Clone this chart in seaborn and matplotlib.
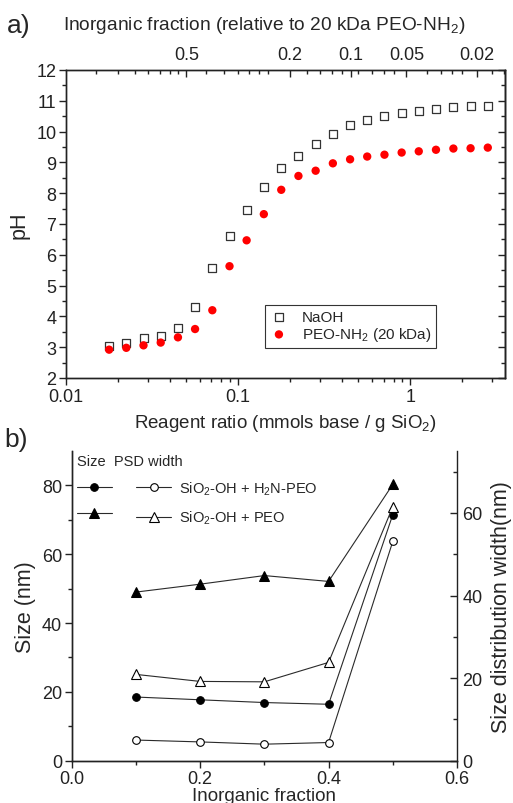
import numpy as np
import pandas as pd
import matplotlib
matplotlib.use('Agg')
import matplotlib.pyplot as plt
import seaborn as sns
from matplotlib.ticker import FixedLocator, MultipleLocator, NullFormatter, LogLocator

# ---------------- Panel a data ----------------
reagent_ratio = [0.0178, 0.0224, 0.0282, 0.0355, 0.0447, 0.0562, 0.0708, 0.0891,
                 0.112, 0.141, 0.178, 0.224, 0.282, 0.355, 0.447, 0.562, 0.708,
                 0.891, 1.12, 1.41, 1.78, 2.24, 2.82]
ph_naoh = [3.03, 3.13, 3.29, 3.35, 3.63, 4.30, 5.58, 6.62, 7.45, 8.21, 8.81, 9.22,
           9.61, 9.92, 10.21, 10.39, 10.52, 10.61, 10.68, 10.72, 10.79, 10.82, 10.84]
ph_peo = [2.92, 2.98, 3.06, 3.15, 3.32, 3.59, 4.20, 5.63, 6.47, 7.32, 8.11, 8.56,
          8.73, 8.97, 9.10, 9.19, 9.25, 9.32, 9.36, 9.41, 9.45, 9.46, 9.48]
series_names = ['NaOH', 'PEO-NH$_2$ (20 kDa)']
top_fractions = [0.5, 0.2, 0.1, 0.05, 0.02]
top_labels = ['0.5', '0.2', '0.1', '0.05', '0.02']
top_minor_mass_ratio = [0.3, 0.4, 0.5, 0.6, 0.7, 0.8, 0.9, 1.3, 1.65, 2, 2.3, 2.65, 3,
                        5, 6, 7, 8, 10, 12, 14, 16, 25, 30, 35, 40, 60, 70]
peo_mmol_per_g = 0.05  # 20 kDa PEO-NH2 -> mmol amine per g polymer

# ---------------- Panel b data ----------------
inorganic_fraction = [0.1, 0.2, 0.3, 0.4, 0.5]
size_h2npeo = [18.5, 17.7, 16.9, 16.4, 71.5]
size_peo = [49.0, 51.3, 53.8, 52.1, 80.3]
psd_h2npeo = [5.0, 4.55, 4.0, 4.4, 53.1]
psd_peo = [20.9, 19.2, 19.1, 23.8, 61.5]
legend_b_labels = ['SiO$_2$-OH + H$_2$N-PEO', 'SiO$_2$-OH + PEO']

sns.set_theme(style='ticks')
plt.rcParams['font.family'] = ['Liberation Sans', 'DejaVu Sans']
plt.rcParams['mathtext.fontset'] = 'custom'
plt.rcParams['mathtext.rm'] = 'Liberation Sans'
plt.rcParams['mathtext.it'] = 'Liberation Sans:italic'
plt.rcParams['mathtext.bf'] = 'Liberation Sans:bold'
plt.rcParams['axes.linewidth'] = 1.0
plt.rcParams['axes.edgecolor'] = '#222222'
plt.rcParams['xtick.color'] = '#222222'
plt.rcParams['ytick.color'] = '#222222'

TICK = 13
fig = plt.figure(figsize=(5.13, 8.04), dpi=100)

# ================= Panel a =================
ax = fig.add_axes([66 / 513, 1 - 379 / 804, (505 - 66) / 513, (379 - 71) / 804])
df_a = pd.DataFrame({'r': reagent_ratio, 'naoh': ph_naoh, 'peo': ph_peo})
sns.scatterplot(data=df_a, x='r', y='naoh', marker='s', s=30, color='white',
                edgecolor='#333333', linewidth=0.9, label=series_names[0], ax=ax, zorder=3)
sns.scatterplot(data=df_a, x='r', y='peo', marker='o', s=36, color='#ff0000',
                edgecolor='none', linewidth=0, label=series_names[1], ax=ax, zorder=3)
ax.set_xscale('log')
ax.set_xlim(0.01, 3.55)
ax.set_ylim(2, 12)
ax.yaxis.set_major_locator(MultipleLocator(1))
ax.yaxis.set_minor_locator(MultipleLocator(0.5))
ax.xaxis.set_major_locator(FixedLocator([0.01, 0.1, 1]))
ax.xaxis.set_major_formatter(matplotlib.ticker.FixedFormatter(['0.01', '0.1', '1']))
ax.xaxis.set_minor_locator(LogLocator(base=10, subs=np.arange(2, 10)))
ax.xaxis.set_minor_formatter(NullFormatter())
ax.tick_params(which='major', direction='out', length=5, width=1, labelsize=TICK,
               top=False, right=False, pad=2)
ax.tick_params(which='minor', direction='out', length=3, width=1, top=False, right=False)
ax.set_xlabel('Reagent ratio (mmols base / g SiO$_2$)', fontsize=13.5, labelpad=5)
ax.set_ylabel('pH', fontsize=15.5, labelpad=5)

sec = ax.secondary_yaxis('right')
sec.yaxis.set_major_locator(MultipleLocator(1))
sec.yaxis.set_minor_locator(MultipleLocator(0.5))
sec.tick_params(which='major', direction='in', length=5, width=1, labelright=False)
sec.tick_params(which='minor', direction='in', length=3, width=1)

ax_top = ax.twiny()
ax_top.set_xscale('log')
ax_top.set_xlim(ax.get_xlim())
ax_top.xaxis.set_major_locator(FixedLocator([(1 / f - 1) * peo_mmol_per_g for f in top_fractions]))
ax_top.xaxis.set_major_formatter(matplotlib.ticker.FixedFormatter(top_labels))
ax_top.xaxis.set_minor_locator(FixedLocator([q * peo_mmol_per_g for q in top_minor_mass_ratio]))
ax_top.xaxis.set_minor_formatter(NullFormatter())
ax_top.tick_params(which='major', direction='in', length=5, width=1, labelsize=TICK, pad=5)
ax_top.tick_params(which='minor', direction='in', length=3, width=1)
fig.text(63 / 513, 1 - 25 / 804, 'Inorganic fraction (relative to 20 kDa PEO-NH$_2$)',
         fontsize=13.8, ha='left', va='center')
fig.text(7 / 513, 1 - 26 / 804, 'a)', fontsize=19, ha='left', va='center')

leg = ax.legend(loc='lower right', bbox_to_anchor=((436 - 66) / 439, (379 - 349) / 308),
                frameon=True, fancybox=False, edgecolor='#333333', framealpha=1,
                fontsize=11, handlelength=1.2, handletextpad=0.9, labelspacing=0.12,
                borderpad=0.3, borderaxespad=0)
leg.get_frame().set_linewidth(0.8)

# ================= Panel b =================
axb = fig.add_axes([71.7 / 513, 1 - 761.7 / 804, (457 - 71.7) / 513, (761.7 - 452) / 804])
df_b = pd.DataFrame({'f': inorganic_fraction, 'size_n': size_h2npeo, 'size_p': size_peo,
                     'psd_n': psd_h2npeo, 'psd_p': psd_peo})
LC = '#2a2a2a'
sns.lineplot(data=df_b, x='f', y='size_n', marker='o', markersize=5.5, color=LC,
             markerfacecolor='black', markeredgecolor='black', linewidth=0.8, ax=axb)
sns.lineplot(data=df_b, x='f', y='size_p', marker='^', markersize=6.5, color=LC,
             markerfacecolor='black', markeredgecolor='black', linewidth=0.8, ax=axb)
axb.set_xlim(0, 0.6)
axb.set_ylim(0, 90)
axb.xaxis.set_major_locator(MultipleLocator(0.2))
axb.xaxis.set_minor_locator(MultipleLocator(0.1))
axb.yaxis.set_major_locator(FixedLocator([0, 20, 40, 60, 80]))
axb.yaxis.set_minor_locator(FixedLocator([10, 30, 50, 70]))
axb.xaxis.set_major_formatter(matplotlib.ticker.FormatStrFormatter('%.1f'))
axb.tick_params(which='major', direction='out', length=5, width=1, labelsize=TICK, pad=2)
axb.tick_params(which='minor', direction='out', length=3, width=1)
axb.spines['top'].set_visible(False)
axb.spines['right'].set_visible(False)
axb.set_xlabel('Inorganic fraction', fontsize=13.5, labelpad=0)
axb.set_ylabel('Size (nm)', fontsize=15.5, labelpad=4)

axr = axb.twinx()
sns.lineplot(data=df_b, x='f', y='psd_n', marker='o', markersize=5.5, color=LC,
             markerfacecolor='white', markeredgecolor='black', markeredgewidth=0.8,
             linewidth=0.8, ax=axr)
sns.lineplot(data=df_b, x='f', y='psd_p', marker='^', markersize=6.5, color=LC,
             markerfacecolor='white', markeredgecolor='black', markeredgewidth=0.8,
             linewidth=0.8, ax=axr)
axr.set_ylim(0, 75)
axr.yaxis.set_major_locator(FixedLocator([0, 20, 40, 60]))
axr.yaxis.set_minor_locator(FixedLocator([10, 30, 50, 70]))
axr.tick_params(which='major', direction='in', length=5, width=1, labelsize=TICK, pad=4)
axr.tick_params(which='minor', direction='in', length=3, width=1)
axr.spines['top'].set_visible(False)
axr.set_ylabel('Size distribution width(nm)', fontsize=15.5, labelpad=6)
fig.text(4 / 513, 1 - 440 / 804, 'b)', fontsize=19, ha='left', va='center')

h_left = axb.get_lines()
h_right = axr.get_lines()
handles = [h_left[0], h_left[1], h_right[0], h_right[1]]
labels = ['', '', legend_b_labels[0], legend_b_labels[1]]
legb = axr.legend(handles, labels, ncol=2, loc='upper left',
                  bbox_to_anchor=(0.005, 1.0), frameon=False, fontsize=10.5,
                  handlelength=2.4, handletextpad=0.5, columnspacing=1.2,
                  labelspacing=0.8, borderpad=0.2, borderaxespad=0,
                  title='Size  PSD width', title_fontsize=10.5, alignment='left')

fig.savefig('out.png', dpi=100)
